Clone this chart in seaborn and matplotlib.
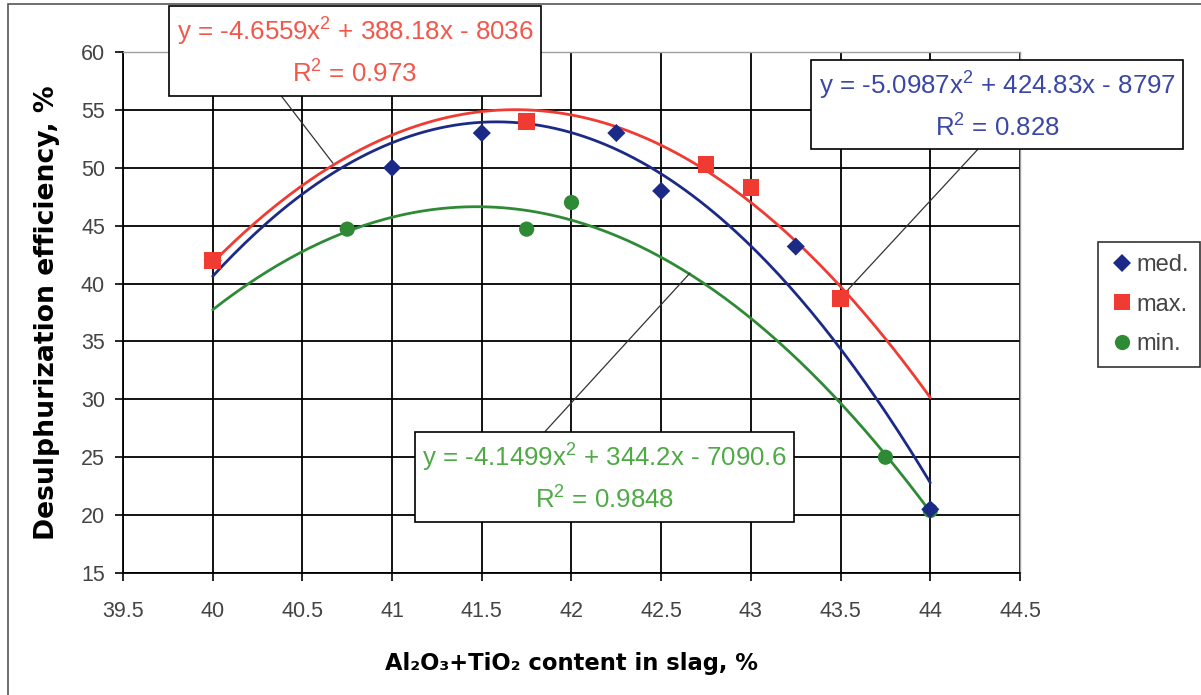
import numpy as np
import pandas as pd
import seaborn as sns
import matplotlib.pyplot as plt
from matplotlib.patches import Rectangle

# values
x_med = [40, 41, 41.5, 42.25, 42.5, 43.25, 44]
y_med = [42, 50, 53, 53, 48, 43.2, 20.5]
x_max = [40, 41.75, 42.75, 43, 43.5]
y_max = [42, 54, 50.3, 48.3, 38.7]
x_min = [40.75, 41.75, 42, 43.75, 44]
y_min = [44.7, 44.7, 47, 25, 20.4]

series_names = ['med.', 'max.', 'min.']
eq_labels = {
    'max.': 'y = -4.6559x$^2$ + 388.18x - 8036\nR$^2$ = 0.973',
    'med.': 'y = -5.0987x$^2$ + 424.83x - 8797\nR$^2$ = 0.828',
    'min.': 'y = -4.1499x$^2$ + 344.2x - 7090.6\nR$^2$ = 0.9848',
}

x_ticks = [39.5, 40, 40.5, 41, 41.5, 42, 42.5, 43, 43.5, 44, 44.5]
y_ticks = [15, 20, 25, 30, 35, 40, 45, 50, 55, 60]

colors = {'med.': '#1c2a87', 'max.': '#ef3b32', 'min.': '#2f8a36'}
text_colors = {'med.': '#3a47a6', 'max.': '#f2574c', 'min.': '#4daa45'}
markers = {'med.': 'D', 'max.': 's', 'min.': 'o'}
marker_sizes = {'med.': 85, 'max.': 140, 'min.': 120}

# drawing order: min first, then med, then max on top
df = pd.concat([
    pd.DataFrame({'x': x_min, 'y': y_min, 'series': 'min.'}),
    pd.DataFrame({'x': x_med, 'y': y_med, 'series': 'med.'}),
    pd.DataFrame({'x': x_max, 'y': y_max, 'series': 'max.'}),
], ignore_index=True)

sns.set_theme(style='white')
plt.rcParams['font.family'] = ['Liberation Sans', 'DejaVu Sans']
plt.rcParams['mathtext.fontset'] = 'custom'
plt.rcParams['mathtext.rm'] = 'Liberation Sans'
plt.rcParams['mathtext.default'] = 'rm'

fig = plt.figure(figsize=(12.01, 6.95), dpi=100)
ax = fig.add_axes([0.1024, 0.1755, 0.7469, 0.7497])

# trendlines (2nd order polynomial fits)
xx = np.linspace(df['x'].min(), df['x'].max(), 200)
for name in series_names:
    sub = df[df['series'] == name]
    coef = np.polyfit(sub['x'], sub['y'], 2)
    sns.lineplot(x=xx, y=np.polyval(coef, xx), color=colors[name], lw=2.0,
                 ax=ax, legend=False, zorder=3)

sns.scatterplot(data=df, x='x', y='y', hue='series', style='series', size='series',
                hue_order=series_names, style_order=series_names, size_order=series_names,
                palette=colors, markers=markers, sizes=marker_sizes, linewidth=0,
                ax=ax, zorder=4)

ax.set_xlim(39.5, 44.5)
ax.set_ylim(15, 60)
ax.set_xticks(x_ticks)
ax.set_xticklabels([f'{v:g}' for v in x_ticks])
ax.set_yticks(y_ticks)
ax.grid(True, color='black', lw=1.3)
ax.set_axisbelow(True)
ax.tick_params(axis='both', direction='out', length=6, width=1.2, color='black',
               labelsize=15.5, labelcolor='#444444', left=True, bottom=True)
ax.tick_params(axis='x', pad=14)
ax.tick_params(axis='y', pad=7)
for side in ['left', 'bottom']:
    ax.spines[side].set_color('black')
    ax.spines[side].set_linewidth(1.3)
for side in ['top', 'right']:
    ax.spines[side].set_color('#a0a0a0')
    ax.spines[side].set_linewidth(1.0)

ax.set_xlabel('Al₂O₃+TiO₂ content in slag, %', fontsize=16.3, fontweight='bold',
              family='DejaVu Sans', labelpad=22, color='black')
ax.set_ylabel('Desulphurization efficiency, %', fontsize=19.2, fontweight='bold',
              family='DejaVu Sans', labelpad=15, color='black')

# legend box on the right
handles, labels = ax.get_legend_handles_labels()
ax.legend(handles, labels, loc='upper right', bbox_to_anchor=(0.9995, 1 - 242 / 695),
          bbox_transform=fig.transFigure, borderaxespad=0, frameon=True, fancybox=False,
          edgecolor='black', fontsize=17, labelcolor='#444444',
          handletextpad=0.1, handlelength=1.0, borderpad=0.5, labelspacing=0.75)
ax.get_legend().get_frame().set_linewidth(1.2)

# equation labels with leader lines
label_pos = {
    'max.': ((0.2586, 1.0), (40.67, 50.4), 0.276),
    'med.': ((0.9744, 0.8973), (43.54, 39.45), 0.467),
    'min.': ((0.5368, 0.1823), (42.66, 40.9), 0.31),
}
for name in series_names:
    (tx, ty), (px, py), rx = label_pos[name]
    rel_y = 1 if name == 'min.' else 0
    ax.annotate(eq_labels[name], xy=(px, py), xycoords='data',
                xytext=(tx, ty), textcoords='axes fraction',
                ha='center', va='center', fontsize=18.6, color=text_colors[name],
                linespacing=1.55, zorder=6, annotation_clip=False,
                bbox=dict(boxstyle='square,pad=0.3', fc='white', ec='black', lw=1.2),
                arrowprops=dict(arrowstyle='-', color='#333333', lw=0.9,
                                relpos=(rx, rel_y), shrinkA=0, shrinkB=0))

# chart area border
fig.patches.append(Rectangle((8 / 1201, -0.05), 1.1, 1 - 4 / 695 + 0.05,
                             transform=fig.transFigure, fill=False,
                             ec='#555555', lw=1.2, zorder=0))

fig.savefig('out.png', dpi=100)
